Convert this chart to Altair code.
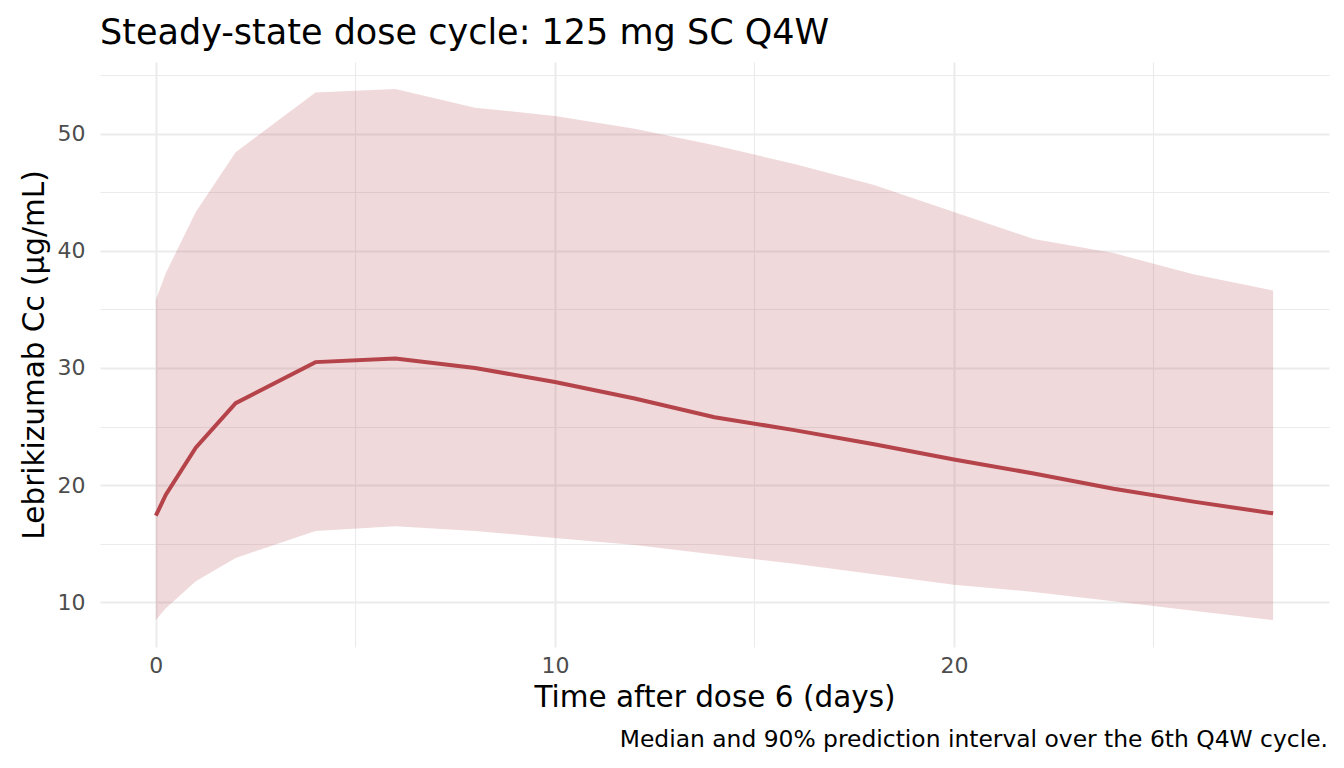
import altair as alt
import pandas as pd

time = [0, 0.25, 1, 2, 4, 6, 8, 10, 12, 14, 16, 18, 20, 22, 24, 26, 28]
median = [17.4, 19.2, 23.2, 27.0, 30.5, 30.8, 30.0, 28.8, 27.4, 25.8, 24.7, 23.5, 22.2, 21.0, 19.7, 18.6, 17.6]
upper = [35.8, 38.1, 43.3, 48.4, 53.5, 53.8, 52.2, 51.5, 50.4, 49.0, 47.4, 45.6, 43.3, 41.0, 39.8, 38.0, 36.6]
lower = [8.5, 9.5, 11.8, 13.8, 16.1, 16.5, 16.1, 15.5, 14.9, 14.1, 13.3, 12.4, 11.5, 10.9, 10.1, 9.3, 8.5]

df = pd.DataFrame({"time": time, "median": median, "lo": lower, "hi": upper})

W, H = 1229, 585
COL = "#B5434A"
FONT = "DejaVu Sans"

xscale = alt.Scale(domain=[-1.4, 29.4], nice=False, zero=False)
yscale = alt.Scale(domain=[6.2, 56.1], nice=False, zero=False)

xaxis = alt.Axis(
    values=[0, 5, 10, 15, 20, 25],
    labelExpr="datum.value % 10 === 0 ? datum.label : ''",
    title="Time after dose 6 (days)",
    gridWidth={"condition": {"test": "datum.value % 10 === 0", "value": 2}, "value": 1.1},
)
yaxis = alt.Axis(
    values=[10, 15, 20, 25, 30, 35, 40, 45, 50, 55],
    labelExpr="datum.value % 10 === 0 ? datum.label : ''",
    title="Lebrikizumab Cc (µg/mL)",
    gridWidth={"condition": {"test": "datum.value % 10 === 0", "value": 2}, "value": 1.1},
)

band = alt.Chart(df).mark_area(color=COL, opacity=0.2).encode(
    x=alt.X("time:Q", scale=xscale, axis=xaxis),
    y=alt.Y("lo:Q", scale=yscale, axis=yaxis),
    y2="hi:Q",
)
line = alt.Chart(df).mark_line(color=COL, strokeWidth=4).encode(
    x=alt.X("time:Q", scale=xscale),
    y=alt.Y("median:Q", scale=yscale),
)
caption = alt.Chart(pd.DataFrame({"t": ["Median and 90% prediction interval over the 6th Q4W cycle."]})).mark_text(
    align="right", baseline="middle", font=FONT, fontSize=23.4, color="#000000"
).encode(text="t:N", x=alt.value(W - 1), y=alt.value(H + 93))

chart = alt.layer(band, line, caption).properties(
    width=W, height=H,
    title=alt.TitleParams("Steady-state dose cycle: 125 mg SC Q4W", anchor="start", frame="group",
                          fontSize=35, font=FONT, fontWeight="normal", color="#000000", offset=11),
    autosize=alt.AutoSizeParams(type="none"),
    padding={"left": 92, "top": 54, "right": 7, "bottom": 112},
).configure_view(stroke=None).configure_axis(
    domain=False, ticks=False, gridColor="#EBEBEB", labelFont=FONT, titleFont=FONT,
    labelFontSize=22, labelColor="#4D4D4D", titleFontSize=29.5, titleFontWeight="normal",
    titleColor="#000000",
).configure_axisX(titlePadding=7, labelPadding=8).configure_axisY(titlePadding=8, labelPadding=15)

chart.save("out.html", embed_options={"renderer": "svg", "actions": False})
